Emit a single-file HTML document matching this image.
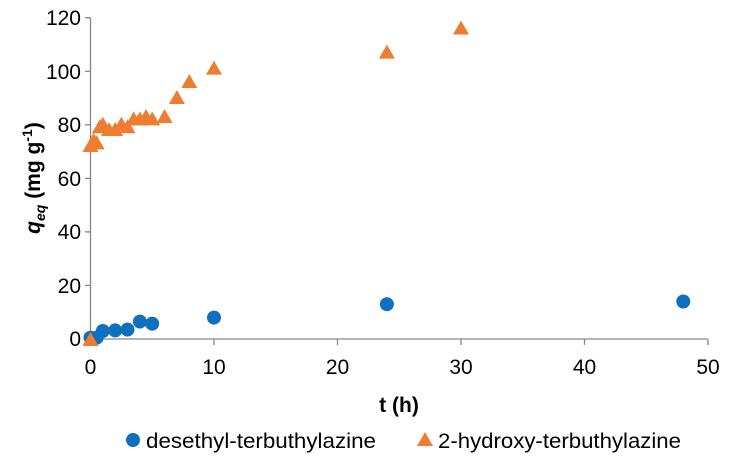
<!DOCTYPE html>
<html><head><style>body{margin:0;background:#fff}</style></head><body>
<svg width="730" height="465" xmlns="http://www.w3.org/2000/svg" font-family="Liberation Sans, sans-serif">
<rect width="730" height="465" fill="#fff"/>
<g stroke="#878787" stroke-width="1.3" fill="none">
<line x1="90.5" y1="17.7" x2="90.5" y2="339"/>
<line x1="90.5" y1="339" x2="708" y2="339"/>
<line x1="85" y1="17.7" x2="90.5" y2="17.7"/><line x1="85" y1="71.3" x2="90.5" y2="71.3"/><line x1="85" y1="124.8" x2="90.5" y2="124.8"/><line x1="85" y1="178.4" x2="90.5" y2="178.4"/><line x1="85" y1="231.9" x2="90.5" y2="231.9"/><line x1="85" y1="285.4" x2="90.5" y2="285.4"/><line x1="85" y1="339" x2="90.5" y2="339"/>
<line x1="90.5" y1="339" x2="90.5" y2="345"/><line x1="214" y1="339" x2="214" y2="345"/><line x1="337.5" y1="339" x2="337.5" y2="345"/><line x1="461" y1="339" x2="461" y2="345"/><line x1="584.5" y1="339" x2="584.5" y2="345"/><line x1="708" y1="339" x2="708" y2="345"/>
</g>
<g font-size="21" fill="#000" text-anchor="end">
<text x="81" y="25">120</text><text x="81" y="79">100</text><text x="81" y="132">80</text><text x="81" y="186">60</text><text x="81" y="239">40</text><text x="81" y="293">20</text><text x="81" y="346">0</text>
</g>
<g font-size="21" fill="#000" text-anchor="middle">
<text x="90.5" y="374">0</text><text x="214" y="374">10</text><text x="337.5" y="374">20</text><text x="461" y="374">30</text><text x="584.5" y="374">40</text><text x="708" y="374">50</text>
<text x="399" y="412" font-weight="bold" font-size="21">t (h)</text>
</g>
<text transform="translate(40,178) rotate(-90)" text-anchor="middle" font-size="21" font-weight="bold"><tspan font-style="italic">q</tspan><tspan font-style="italic" font-size="14" dy="5">eq</tspan><tspan dy="-5"> (mg g</tspan><tspan font-size="14" dy="-8">-1</tspan><tspan dy="8">)</tspan></text>
<g fill="#1070C0">
<circle cx="90.5" cy="337.7" r="7"/><circle cx="96.7" cy="337.7" r="7"/><circle cx="102.8" cy="331" r="7"/><circle cx="115.2" cy="330.4" r="7"/><circle cx="127.5" cy="329.6" r="7"/><circle cx="139.9" cy="321.6" r="7"/><circle cx="152.2" cy="323.7" r="7"/><circle cx="214" cy="317.6" r="7"/><circle cx="386.9" cy="304.2" r="7"/><circle cx="683.3" cy="301.5" r="7"/>
</g>
<g fill="#EE7D31">
<path d="M0,-8 L8,6 L-8,6Z" transform="translate(90.5,146)"/>
<path d="M0,-8 L8,6 L-8,6Z" transform="translate(93.6,140.7)"/>
<path d="M0,-8 L8,6 L-8,6Z" transform="translate(96.7,143.4)"/>
<path d="M0,-8 L8,6 L-8,6Z" transform="translate(99.8,127.3)"/>
<path d="M0,-8 L8,6 L-8,6Z" transform="translate(102.8,124.8)"/>
<path d="M0,-8 L8,6 L-8,6Z" transform="translate(109,130)"/>
<path d="M0,-8 L8,6 L-8,6Z" transform="translate(115.2,130)"/>
<path d="M0,-8 L8,6 L-8,6Z" transform="translate(121.4,124.8)"/>
<path d="M0,-8 L8,6 L-8,6Z" transform="translate(127.5,127.3)"/>
<path d="M0,-8 L8,6 L-8,6Z" transform="translate(133.7,119.4)"/>
<path d="M0,-8 L8,6 L-8,6Z" transform="translate(139.9,119.4)"/>
<path d="M0,-8 L8,6 L-8,6Z" transform="translate(146,117)"/>
<path d="M0,-8 L8,6 L-8,6Z" transform="translate(152.2,119.4)"/>
<path d="M0,-8 L8,6 L-8,6Z" transform="translate(164.6,117)"/>
<path d="M0,-8 L8,6 L-8,6Z" transform="translate(176.9,98)"/>
<path d="M0,-8 L8,6 L-8,6Z" transform="translate(189.3,82)"/>
<path d="M0,-8 L8,6 L-8,6Z" transform="translate(214,68.6)"/>
<path d="M0,-8 L8,6 L-8,6Z" transform="translate(386.9,52.6)"/>
<path d="M0,-8 L8,6 L-8,6Z" transform="translate(461,28.5)"/>
<path d="M0,-8 L8,6 L-8,6Z" transform="translate(90.5,340)"/>
</g>
<circle cx="133" cy="440" r="7" fill="#1070C0"/>
<text x="146" y="448" font-size="21" textLength="230" lengthAdjust="spacingAndGlyphs">desethyl-terbuthylazine</text>
<path d="M425,432 L433,446 L417,446Z" fill="#EE7D31"/>
<text x="438" y="448" font-size="21" textLength="243" lengthAdjust="spacingAndGlyphs">2-hydroxy-terbuthylazine</text>
</svg>
</body></html>
